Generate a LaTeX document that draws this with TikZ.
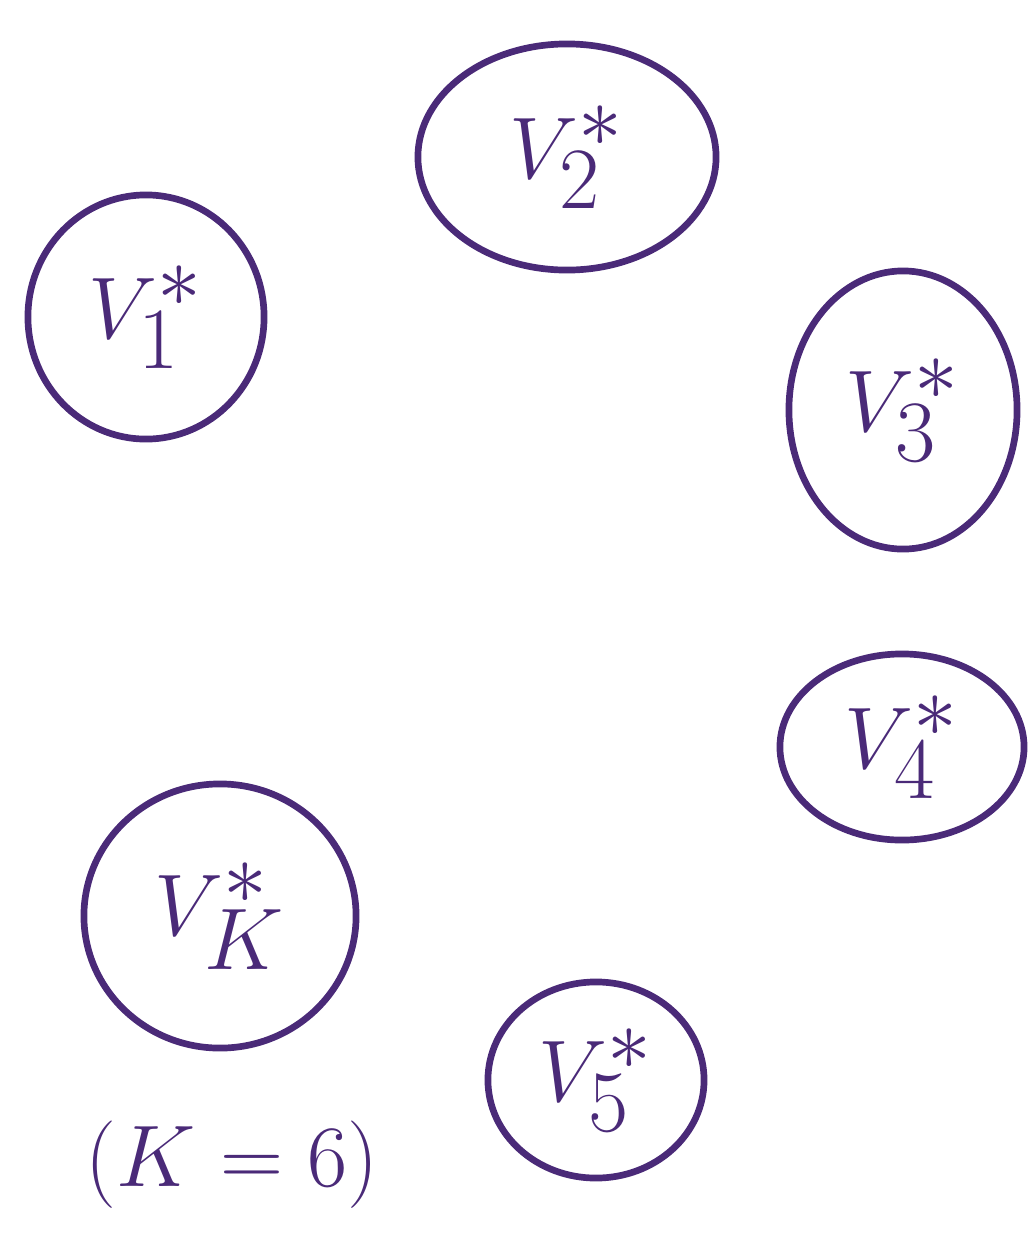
\documentclass[tikz,border=0pt]{standalone}
\usetikzlibrary{shapes.geometric}
\definecolor{ink}{HTML}{4A2A78}
\begin{document}
\begin{tikzpicture}[x=0.01cm,y=-0.01cm,
  vnode/.style={draw=ink, line width=1.9pt, ellipse, inner sep=0pt, text=ink,
    font=\fontsize{40}{48}\selectfont},
  lbl/.style={text=ink, font=\fontsize{40}{48}\selectfont}]
\useasboundingbox (0,0) rectangle (1031,1233);
\node[vnode, minimum width=2.36cm, minimum height=2.44cm] (v1) at (146,317) {$V_1^*$};
\node[vnode, minimum width=2.98cm, minimum height=2.26cm] (v2) at (567,157) {$V_2^*$};
\node[vnode, minimum width=2.28cm, minimum height=2.78cm] (v3) at (903,410) {$V_3^*$};
\node[vnode, minimum width=2.44cm, minimum height=1.86cm] (v4) at (902,747) {$V_4^*$};
\node[vnode, minimum width=2.72cm, minimum height=2.64cm] (vk) at (220,916) {$V_K^*$};
\node[vnode, minimum width=2.16cm, minimum height=1.96cm] (v5) at (596,1080) {$V_5^*$};
\node[lbl] (kk) at (232,1165) {$(K=6)$};
\end{tikzpicture}
\end{document}
